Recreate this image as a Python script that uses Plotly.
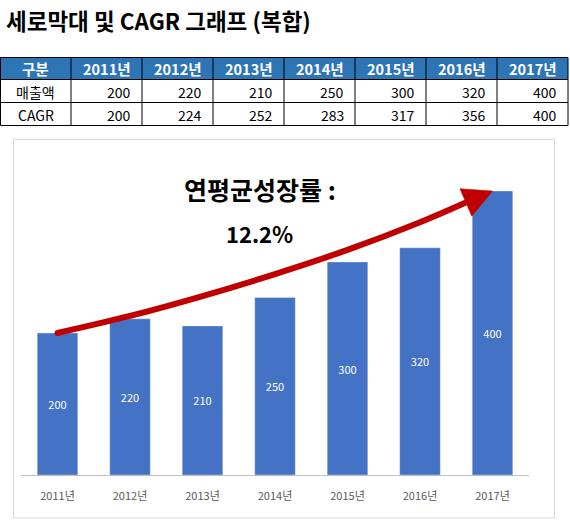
import math
import plotly.graph_objects as go

# ---------------- data ----------------
years = ["2011년", "2012년", "2013년", "2014년", "2015년", "2016년", "2017년"]
sales = [200, 220, 210, 250, 300, 320, 400]
cagr = [200, 224, 252, 283, 317, 356, 400]
growth_label = "12.2%"
growth_title = "연평균성장률 :"
title_text = "세로막대 및 CAGR 그래프 (복합)"
row_labels = ["매출액", "CAGR"]
header_first = "구분"

# ---------------- geometry helpers ----------------
W, H = 570, 530
FONT = "Noto Sans CJK KR"
BLUE = "#4472C4"
RED = "#C00000"
HEAD_BLUE = "#2E75B6"

x_left_px, x_right_px = 21.25, 528.75   # plot area in px
y_bottom_px = 475.0
px_per_unit = 0.71
y_max = 450
y_top_px = y_bottom_px - y_max * px_per_unit
n = len(years)
px_per_cat = (x_right_px - x_left_px) / n


def pfx(px):
    return px / W


def pfy(py):
    return 1 - py / H


def d2px(x, y):
    return (x_left_px + (x + 0.5) * px_per_cat, y_bottom_px - y * px_per_unit)


def px2d(px, py):
    return ((px - x_left_px) / px_per_cat - 0.5, (y_bottom_px - py) / px_per_unit)


xs = list(range(n))

fig = go.Figure()

# bars
fig.add_trace(go.Bar(
    x=xs, y=sales, width=0.56,
    marker=dict(color=BLUE, line=dict(color="rgba(255,255,255,0.35)", width=1)),
    text=[str(v) for v in sales], textposition="inside", insidetextanchor="middle",
    textfont=dict(color="white", size=11, family=FONT),
    hoverinfo="skip", showlegend=False,
))

# arrow along CAGR curve
tip_px = d2px(xs[-1], cagr[-1])
prev_px = d2px(xs[-2], cagr[-2])
dx, dy = tip_px[0] - prev_px[0], tip_px[1] - prev_px[1]
L = math.hypot(dx, dy)
ux, uy = dx / L, dy / L
head_len, head_half = 29.0, 15.0
base_px = (tip_px[0] - ux * head_len, tip_px[1] - uy * head_len)
v1 = (base_px[0] - uy * head_half, base_px[1] + ux * head_half)
v2 = (base_px[0] + uy * head_half, base_px[1] - ux * head_half)
bx, by = px2d(*base_px)

line_x = xs[:-1] + [bx]
line_y = cagr[:-1] + [by]
fig.add_trace(go.Scatter(
    x=line_x, y=line_y, mode="lines",
    line=dict(color=RED, width=6, shape="spline"),
    hoverinfo="skip", showlegend=False,
))
fig.add_trace(go.Scatter(
    x=[line_x[0]], y=[line_y[0]], mode="markers",
    marker=dict(color=RED, size=6, line=dict(width=0)),
    hoverinfo="skip", showlegend=False,
))
tri = [tip_px, v1, v2, tip_px]
tri_d = [px2d(*p) for p in tri]
fig.add_trace(go.Scatter(
    x=[p[0] for p in tri_d], y=[p[1] for p in tri_d], mode="lines",
    fill="toself", fillcolor=RED, line=dict(color=RED, width=0.5),
    hoverinfo="skip", showlegend=False,
))

annotations = [
    dict(text=f"<b>{title_text}</b>", x=pfx(4), y=pfy(20), xref="paper", yref="paper",
         xanchor="left", yanchor="middle", showarrow=False,
         font=dict(size=22.5, color="black", family=FONT)),
    dict(text=f"<b>{growth_title}</b>", x=pfx(260), y=pfy(189), xref="paper", yref="paper",
         xanchor="center", yanchor="middle", showarrow=False,
         font=dict(size=25, color="black", family=FONT)),
    dict(text=f"<b>{growth_label}</b>", x=pfx(259.5), y=pfy(233), xref="paper", yref="paper",
         xanchor="center", yanchor="middle", showarrow=False,
         font=dict(size=22, color="black", family=FONT)),
]

shapes = [
    dict(type="rect", xref="paper", yref="paper",
         x0=pfx(13.5), x1=pfx(554.5), y0=pfy(518), y1=pfy(139.5),
         line=dict(color="#D9D9D9", width=1), fillcolor="rgba(0,0,0,0)", layer="below"),
]

# ---------------- table (drawn with shapes + text) ----------------
col_edges = [0.5] + [71 * (i + 1) for i in range(n + 1)]
row_edges = [57.5, 79.5, 102.5, 125.5]
header_vals = [header_first] + years
body_rows = [[row_labels[0]] + [str(v) for v in sales],
             [row_labels[1]] + [str(v) for v in cagr]]

shapes.append(dict(type="rect", xref="paper", yref="paper",
                   x0=pfx(col_edges[0]), x1=pfx(col_edges[-1]),
                   y0=pfy(row_edges[1]), y1=pfy(row_edges[0]),
                   fillcolor=HEAD_BLUE, line=dict(width=0), layer="above"))
for ry in row_edges:
    shapes.append(dict(type="line", xref="paper", yref="paper",
                       x0=pfx(col_edges[0]), x1=pfx(col_edges[-1]), y0=pfy(ry), y1=pfy(ry),
                       line=dict(color="black", width=1), layer="above"))
for cx in col_edges:
    shapes.append(dict(type="line", xref="paper", yref="paper",
                       x0=pfx(cx), x1=pfx(cx), y0=pfy(row_edges[-1]), y1=pfy(row_edges[0]),
                       line=dict(color="black", width=1), layer="above"))

for j, val in enumerate(header_vals):
    cxm = (col_edges[j] + col_edges[j + 1]) / 2
    annotations.append(dict(text=f"<b>{val}</b>", x=pfx(cxm), y=pfy(68.5),
                            xref="paper", yref="paper", xanchor="center", yanchor="middle",
                            showarrow=False, font=dict(size=14.5, color="white", family=FONT)))
row_centers = [91.5, 114.5]
for r, row in enumerate(body_rows):
    for j, val in enumerate(row):
        if j == 0:
            xpos, anchor = (col_edges[0] + col_edges[1]) / 2, "center"
        else:
            xpos, anchor = col_edges[j + 1] - 9, "right"
        annotations.append(dict(text=val, x=pfx(xpos), y=pfy(row_centers[r]),
                                xref="paper", yref="paper", xanchor=anchor, yanchor="middle",
                                showarrow=False, font=dict(size=14, color="black", family=FONT)))

fig.update_layout(
    width=W, height=H,
    margin=dict(l=0, r=0, t=0, b=0),
    paper_bgcolor="white", plot_bgcolor="white",
    showlegend=False,
    font=dict(family=FONT),
    xaxis=dict(
        domain=[pfx(x_left_px), pfx(x_right_px)], range=[-0.5, n - 0.5],
        tickvals=xs, ticktext=years, showgrid=False, zeroline=False,
        showline=True, linecolor="#BFBFBF", linewidth=1, ticks="",
        tickfont=dict(size=11, color="#595959", family=FONT), ticklabelstandoff=11,
        fixedrange=True,
    ),
    yaxis=dict(
        domain=[pfy(y_bottom_px), pfy(y_top_px)], range=[0, y_max],
        visible=False, showgrid=False, zeroline=False, fixedrange=True,
    ),
    annotations=annotations,
    shapes=shapes,
)

fig.write_html("out.html")
